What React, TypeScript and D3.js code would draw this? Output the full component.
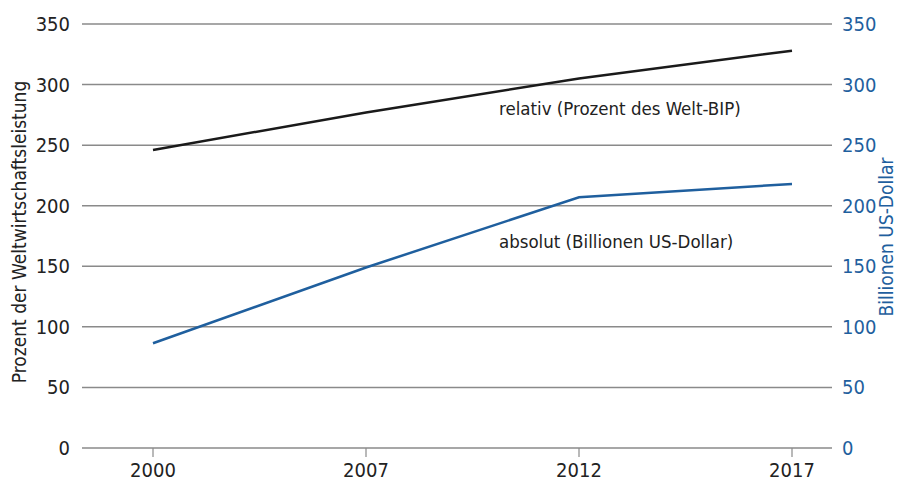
import React from "react";
import * as d3 from "d3";

const years = ["2000", "2007", "2012", "2017"];
const relativ = [246, 277, 305, 328];
const absolut = [86.5, 149, 207, 218];
const yTicks = [0, 50, 100, 150, 200, 250, 300, 350];

const W = 897;
const H = 485;
const FONT = "'Liberation Sans Narrow', 'DejaVu Sans Condensed', 'Roboto', sans-serif";
const BLUE = "#1f5f9e";

export default function App() {
  const x = d3.scalePoint<string>().domain(years).range([153, 792]);
  const y = d3.scaleLinear().domain([0, 350]).range([448, 24]);
  const line = d3
    .line<number>()
    .x((_, i) => x(years[i]) as number)
    .y((d) => y(d));

  return (
    <svg width={W} height={H} style={{ position: "absolute", left: 0, top: 0, background: "#fff" }}>
      <rect width={W} height={H} fill="#fff" />
      {yTicks.map((t) => (
        <g key={t}>
          <line x1={82} x2={832} y1={y(t)} y2={y(t)} stroke="#8a8a8a" strokeWidth={1.5} />
          <text x={70} y={y(t)} dy="0.35em" textAnchor="end" fontFamily={FONT} fontSize={20} fill="#222">
            {t}
          </text>
          <text x={842} y={y(t)} dy="0.35em" textAnchor="start" fontFamily={FONT} fontSize={20} fill={BLUE}>
            {t}
          </text>
        </g>
      ))}
      {years.map((yr) => (
        <g key={yr}>
          <line x1={x(yr)} x2={x(yr)} y1={y(0)} y2={y(0) + 9} stroke="#8a8a8a" strokeWidth={1.2} />
          <text x={x(yr)} y={477} textAnchor="middle" fontFamily={FONT} fontSize={20} fill="#222">
            {yr}
          </text>
        </g>
      ))}
      <path d={line(relativ) || ""} fill="none" stroke="#1a1a1a" strokeWidth={2.5} />
      <path d={line(absolut) || ""} fill="none" stroke={BLUE} strokeWidth={2.5} />
      <text x={499} y={115} fontFamily={FONT} fontSize={18.5} fill="#222">
        relativ (Prozent des Welt-BIP)
      </text>
      <text x={499} y={248} fontFamily={FONT} fontSize={18.5} fill="#222">
        absolut (Billionen US-Dollar)
      </text>
      <text
        transform={`translate(26,${232}) rotate(-90)`}
        textAnchor="middle"
        fontFamily={FONT}
        fontSize={19}
        fill="#222"
      >
        Prozent der Weltwirtschaftsleistung
      </text>
      <text
        transform={`translate(893,${237}) rotate(-90)`}
        textAnchor="middle"
        fontFamily={FONT}
        fontSize={19}
        fill={BLUE}
      >
        Billionen US-Dollar
      </text>
    </svg>
  );
}
